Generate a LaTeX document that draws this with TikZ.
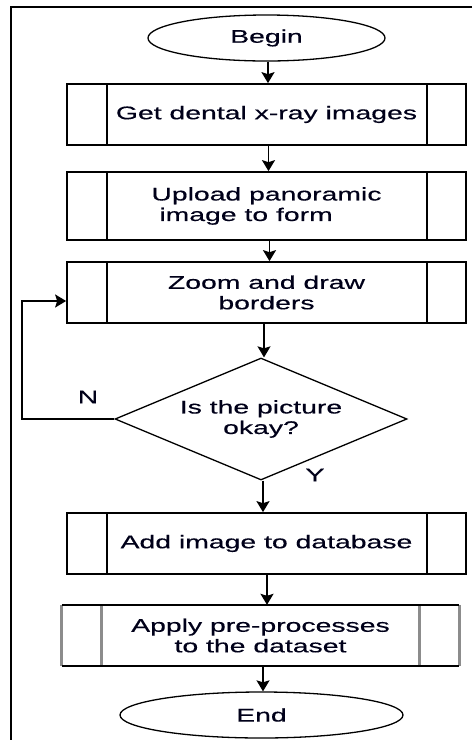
\documentclass[tikz,border=0pt]{standalone}
\usepackage{fontspec}
\setmainfont{Liberation Sans}[FakeStretch=1.55,FakeBold=0.4]
\usetikzlibrary{shapes.geometric,arrows.meta}
\tikzset{
  every node/.style={font=\fontsize{18.3}{20.5}\selectfont, text=black!90!blue},
  procbox/.style={draw, line width=1.7pt, minimum width=399pt, minimum height=61pt, inner sep=0pt, align=center},
  term/.style={draw, line width=1.3pt, ellipse, inner sep=0pt},
  decision/.style={draw, line width=1.3pt, diamond, inner sep=0pt, minimum width=292pt, minimum height=122pt, aspect=2.39, align=center},
  arr/.style={line width=1.7pt, -{Stealth[width=13pt,length=11pt,inset=2pt]}},
  frame/.style={line width=1.6pt},
  sideline/.style={line width=1.7pt},
  grayside/.style={line width=3pt, draw=black!45},
  lbl/.style={inner sep=0pt}
}
\begin{document}
\begin{tikzpicture}[x=1pt,y=-1pt]
\useasboundingbox (0,0) rectangle (472,740);
% frame
\coordinate (ftl) at (11,7);
\coordinate (ftr) at (472,7);
\coordinate (fbl) at (11,740);
\draw[frame] (ftr) -- (ftl) -- (fbl);

% nodes
\node[term, minimum width=237pt, minimum height=46pt] (begin) at (266.5,38) {Begin};
\node[procbox] (b1) at (266.5,114.5) {Get dental x-ray images};
\node[procbox, minimum height=68pt, align=left] (b2) at (266.5,206) {Upload panoramic\\\hspace*{8pt}image to form};
\node[procbox] (b3) at (266.5,292.5) {Zoom and draw\\borders};
\node[decision] (dia) at (261,419) {Is the picture\\okay?};
\node[procbox] (b4) at (266.5,543.5) {Add image to database};
\node[minimum width=397pt, minimum height=61pt, inner sep=0pt, align=center] (b5) at (260.5,635.5) {Apply pre-processes\\to the dataset};
\node[term, minimum width=283pt, minimum height=46pt] (end) at (261.5,715) {End};

% inner side lines of process boxes
\foreach \b in {b1,b2,b3,b4}{
  \draw[sideline] ([xshift=41pt]\b.north west) -- ([xshift=41pt]\b.south west);
  \draw[sideline] ([xshift=-40pt]\b.north east) -- ([xshift=-40pt]\b.south east);
}
% box 5: black top/bottom, gray sides
\draw[grayside] (b5.north west) -- (b5.south west);
\draw[grayside] (b5.north east) -- (b5.south east);
\draw[grayside] ([xshift=40pt]b5.north west) -- ([xshift=40pt]b5.south west);
\draw[grayside] ([xshift=-40pt]b5.north east) -- ([xshift=-40pt]b5.south east);
\draw[sideline] (b5.north west) -- (b5.north east);
\draw[sideline] (b5.south west) -- (b5.south east);

% connectors
\draw[arr] ([xshift=1.5pt]begin.south) -- ([xshift=1.5pt]begin.south |- b1.north);
\draw[arr] ([xshift=2pt]b1.south) -- ([xshift=2pt]b1.south |- b2.north);
\draw[arr] ([xshift=3pt]b2.south) -- ([xshift=3pt]b2.south |- b3.north);
\draw[arr] ([xshift=-2.5pt]b3.south) -- ([xshift=-2.5pt]b3.south |- dia.north);
\draw[arr] ([xshift=2pt]dia.south) -- ([xshift=2pt]dia.south |- b4.north);
\draw[arr] ([xshift=0.5pt]b4.south) -- ([xshift=0.5pt]b4.south |- b5.north);
\draw[arr] ([xshift=2.5pt]b5.south) -- ([xshift=2.5pt]b5.south |- end.north);
\coordinate (lp) at (22,301);
\draw[arr] (dia.west) -| (lp) -- (b3.west |- lp);

% labels
\node[lbl] (nl) at (88,397) {N};
\node[lbl] (yl) at (315,475) {Y};
\end{tikzpicture}
\end{document}
